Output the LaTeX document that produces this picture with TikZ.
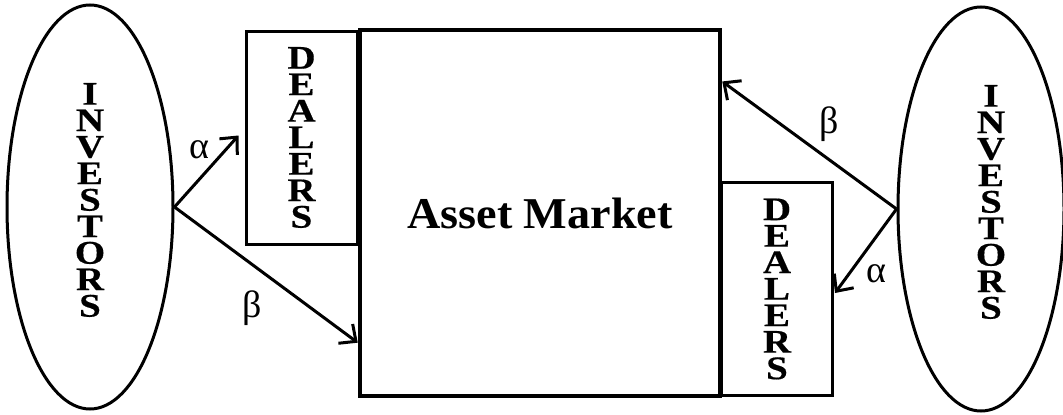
\documentclass[tikz,border=0pt]{standalone}
\usepackage{fontspec}
\setmainfont{Liberation Serif}
\newfontfamily\widefont[FakeStretch=1.18, FakeBold=0.5]{Liberation Serif}
\newfontfamily\marketfont[FakeStretch=1.05]{Liberation Serif}
\usetikzlibrary{positioning}
\usetikzlibrary{calc}
\usetikzlibrary{shapes.geometric}
\usetikzlibrary{arrows.meta}
\newcommand{\vword}{\widefont\fontsize{33pt}{26.5pt}\selectfont\bfseries}
\tikzset{
    common/.style={draw, line width=3pt, inner sep=0pt},
    investors/.style={common, ellipse, minimum width=166pt, minimum height=404pt},
    dealers/.style={common, rectangle, minimum width=111pt, minimum height=213pt, align=center, font=\vword},
    market/.style={common, rectangle, line width=4.5pt, minimum width=360pt, minimum height=366pt, font=\marketfont\fontsize{44pt}{50pt}\selectfont\bfseries},
    word/.style={align=center, font=\vword, yshift=7pt},
    flow/.style={line width=3pt, -{Straight Barb[length=13pt, width=24pt, line width=3pt]}},
    share/.style={font=\fontsize{38pt}{44pt}\selectfont},
}

\begin{document}
\begin{tikzpicture}[x=1pt, y=-1pt]
    \useasboundingbox (0,0) rectangle (1063,415);
    \node[market] (mk) at (540,213) {Asset Market};
    \node[dealers] (dl) at (301.5,137.5) {D\\E\\A\\L\\E\\R\\S};
    \node[dealers] (dr) at (777,289) {D\\E\\A\\L\\E\\R\\S};
    \node[investors, label={[word]center:I\\N\\V\\E\\S\\T\\O\\R\\S}] (il) at (90,207) {};
    \node[investors, label={[word, xshift=10pt]center:I\\N\\V\\E\\S\\T\\O\\R\\S}] (ir) at (981,209) {};
    % investors to dealers and market
    \draw[flow] (il.east) -- ($(dl.west)+(-6,-2)$) node[share, midway, shift={(-7,-22)}] {α};
    \draw[flow] (il.east) -- ($(mk.south west)!0.15!(mk.north west)$) node[share, midway, shift={(-14,33)}] {β};
    \draw[flow] (ir.west) -- ($(mk.north east)!0.145!(mk.south east)$) node[share, midway, shift={(20,-21)}] {β};
    \draw[flow] (ir.west) -- ($(dr.east)+(1,4)$) node[share, midway, shift={(11,23)}] {α};
\end{tikzpicture}
\end{document}
